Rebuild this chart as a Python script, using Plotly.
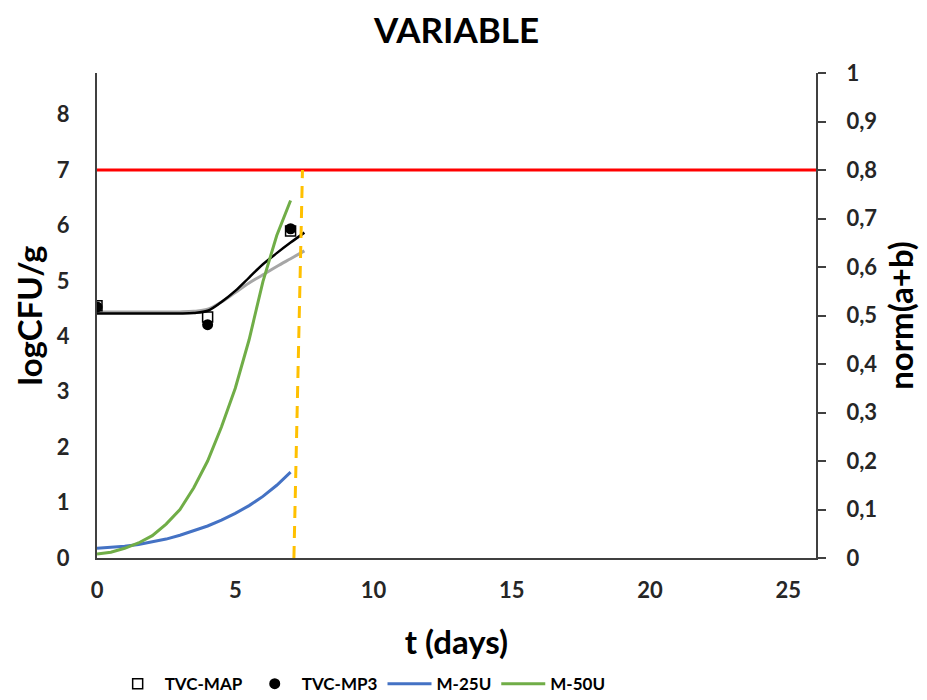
import plotly.graph_objects as go

# ---- data ----
tvc_days = [0, 4, 7]
tvc_map = [4.55, 4.35, 5.90]
tvc_mp3 = [4.53, 4.21, 5.94]

fit_days = [0, 1, 2, 3, 3.5, 4, 4.5, 5, 5.5, 6, 6.5, 7, 7.5]
fit_black = [4.41, 4.41, 4.41, 4.41, 4.42, 4.46, 4.62, 4.82, 5.06, 5.30, 5.50, 5.69, 5.87]
fit_gray = [4.44, 4.44, 4.44, 4.44, 4.45, 4.49, 4.62, 4.79, 4.96, 5.11, 5.26, 5.40, 5.54]

m_days = [0, 0.5, 1, 1.5, 2, 2.5, 3, 3.5, 4, 4.5, 5, 5.5, 6, 6.5, 7]
m25u = [0.020, 0.022, 0.024, 0.028, 0.033, 0.039, 0.047, 0.056, 0.066, 0.078, 0.092, 0.108, 0.127, 0.150, 0.177]
m50u = [0.008, 0.012, 0.020, 0.031, 0.046, 0.070, 0.100, 0.145, 0.200, 0.270, 0.350, 0.450, 0.570, 0.665, 0.737]

limit_x = [0, 26]
limit_y = [7, 7]
shelf_x = [7.12, 7.43]
shelf_y = [0, 7]

FONT = "Lato"
fig = go.Figure()

fig.add_trace(go.Scatter(x=limit_x, y=limit_y, mode="lines",
                         line=dict(color="#ff0000", width=3), showlegend=False))
fig.add_trace(go.Scatter(x=m_days, y=m25u, mode="lines", name="M-25U", yaxis="y2",
                         line=dict(color="#4472c4", width=3)))
fig.add_trace(go.Scatter(x=m_days, y=m50u, mode="lines", name="M-50U", yaxis="y2",
                         line=dict(color="#70ad47", width=3)))
fig.add_trace(go.Scatter(x=fit_days, y=fit_gray, mode="lines", showlegend=False,
                         line=dict(color="#a6a6a6", width=3, shape="spline")))
fig.add_trace(go.Scatter(x=fit_days, y=fit_black, mode="lines", showlegend=False,
                         line=dict(color="#000000", width=2.5, shape="spline")))
fig.add_trace(go.Scatter(x=tvc_days, y=tvc_map, mode="markers", name="TVC-MAP",
                         marker=dict(symbol="square-open", size=10, color="#000000",
                                     line=dict(width=1.5))))
fig.add_trace(go.Scatter(x=tvc_days, y=tvc_mp3, mode="markers", name="TVC-MP3",
                         marker=dict(symbol="circle", size=11, color="#000000")))
fig.add_trace(go.Scatter(x=shelf_x, y=shelf_y, mode="lines", showlegend=False,
                         line=dict(color="#ffc000", width=3, dash="12px,8px")))

fig.update_layout(
    width=919, height=692,
    margin=dict(l=89, r=111, t=65, b=142, autoexpand=False),
    paper_bgcolor="white", plot_bgcolor="white",
    separators=",.",
    font=dict(family=FONT, size=17, color="#262626"),
    title=dict(text="<b>VARIABLE</b>", x=0.5, xref="paper", y=0.967, yanchor="middle",
               font=dict(family=FONT, size=35, color="#000000")),
    xaxis=dict(range=[0, 26], tickvals=[0, 5, 10, 15, 20, 25], showgrid=False, zeroline=False,
               showline=True, linecolor="#404040", linewidth=2, ticks="",
               ticklabelstandoff=12,
               tickfont=dict(family=FONT, size=22, weight="bold"),
               title=dict(text="<b>t (days)</b>", standoff=28,
                          font=dict(family=FONT, size=33, color="#000000"))),
    yaxis=dict(range=[0, 8.75], tickvals=list(range(0, 9)), showgrid=False, zeroline=False,
               showline=True, linecolor="#404040", linewidth=2, ticks="",
               ticklabelstandoff=21,
               tickfont=dict(family=FONT, size=22, weight="bold"),
               title=dict(text="<b>logCFU/g</b>", standoff=4,
                          font=dict(family=FONT, size=33, color="#000000"))),
    yaxis2=dict(range=[0, 1], dtick=0.1, overlaying="y", side="right", showgrid=False,
                zeroline=False, showline=True, linecolor="#404040", linewidth=2,
                ticks="outside", ticklen=8, tickwidth=2, tickcolor="#404040",
                ticklabelstandoff=16,
                tickfont=dict(family=FONT, size=22, weight="bold"),
                title=dict(text="<b>norm(a+b)</b>", standoff=14,
                           font=dict(family=FONT, size=33, color="#000000"))),
    legend=dict(orientation="h", x=0.019, xanchor="left", y=-0.26, yanchor="middle",
                font=dict(family=FONT, size=17, weight="bold", color="#000000"),
                traceorder="normal", itemwidth=44),
)

order = {"TVC-MAP": 1, "TVC-MP3": 2, "M-25U": 3, "M-50U": 4}
for tr in fig.data:
    if tr.name in order:
        tr.legendrank = order[tr.name]

fig.write_html("out.html")
